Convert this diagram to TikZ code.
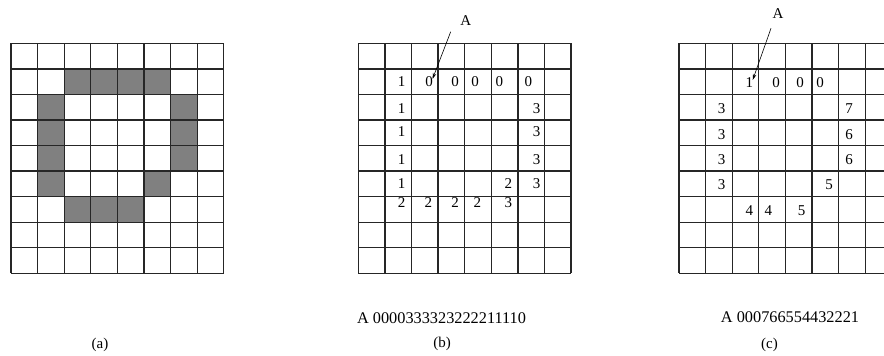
\documentclass[tikz,border=0pt]{standalone}
\usepackage{fontspec}
\setmainfont{Liberation Serif}
\usetikzlibrary{arrows.meta}
\tikzset{
  gl/.style={line width=1.3pt, draw=black!85},
  cellfill/.style={fill={rgb,255:red,128;green,128;blue,128}},
  numtext/.style={inner sep=0pt, font=\fontsize{15}{15}\selectfont},
  captext/.style={inner sep=0pt, font=\fontsize{15}{15}\selectfont},
  seqtext/.style={inner sep=0pt, font=\fontsize{16.3}{16.3}\selectfont},
  arr/.style={line width=0.6pt, -{Stealth[length=6pt,width=3.5pt]}},
}
\newcommand{\cw}{26.6}
\newcommand{\ch}{25.55}
\newcommand{\drawgrid}[1]{%
  \foreach \i in {0,...,8} \draw[gl] ({#1+\i*\cw},43.3) -- ({#1+\i*\cw},{43.3+9*\ch});
  \foreach \j in {0,...,9} \draw[gl] (#1,{43.3+\j*\ch}) -- ({#1+8*\cw},{43.3+\j*\ch});
}
\begin{document}
\begin{tikzpicture}[x=1pt,y=-1pt]
\useasboundingbox (0,0) rectangle (884,356);
\clip (0,0) rectangle (884,356);
\fill[white] (0,0) rectangle (884,356);
% ---------- (a) ----------
\def\La{11}
\foreach \c/\r in {2/1,3/1,4/1,5/1, 1/2,1/3,1/4,1/5, 6/2,6/3,6/4, 5/5, 2/6,3/6,4/6}
  \fill[cellfill] ({\La+\c*\cw},{43.3+\r*\ch}) rectangle ({\La+(\c+1)*\cw},{43.3+(\r+1)*\ch});
\drawgrid{11}
\node[captext] (capa) at (100,345) {(a)};
% ---------- (b) ----------
\drawgrid{358.3}
\foreach \n/\x/\y/\t in {
  b1a/401.7/81.7/1, b1b/429/81.7/0, b1c/455/81.7/0, b1d/475/81.7/0, b1e/499.3/81.7/0, b1f/528.3/81.7/0,
  b2a/401.7/108.3/1, b2b/536.7/108.3/3,
  b3a/401.7/132/1, b3b/536.7/132/3,
  b4a/401.7/159.3/1, b4b/536.7/159.3/3,
  b5a/401.7/184/1, b5b/508.3/184/2, b5c/536.7/184/3,
  b6a/401.7/202.5/2, b6b/428.3/202.5/2, b6c/455/202.5/2, b6d/477.3/202.5/2, b6e/508.3/202.5/3}
  \node[numtext] (\n) at (\x,\y) {\t};
\node[numtext] (Ab) at (465.7,21) {A};
\coordinate (Abtop) at (450.7,31.7);
\coordinate (Abtip) at (432.5,79);
\draw[arr] (Abtop) -- (Abtip);
\node[seqtext] (seqb) at (441.5,318) {A 0000333323222211110};
\node[captext] (capb) at (442,344) {(b)};
% ---------- (c) ----------
\drawgrid{679}
\foreach \n/\x/\y/\t in {
  c1a/749.3/82.7/1, c1b/776/82.7/0, c1c/800/82.7/0, c1d/820/82.7/0,
  c2a/721.7/108.3/3, c2b/849/108.3/7,
  c3a/721.7/134.3/3, c3b/849/134.3/6,
  c4a/721.7/160/3, c4b/849/160/6,
  c5a/721.7/184.3/3, c5b/829/184.3/5,
  c6a/749.3/210.7/4, c6b/768.3/210.7/4, c6c/801.7/210.7/5}
  \node[numtext] (\n) at (\x,\y) {\t};
\node[numtext] (Ac) at (778,14) {A};
\coordinate (Actop) at (771,28.3);
\coordinate (Actip) at (752.7,80);
\draw[arr] (Actop) -- (Actip);
\node[seqtext] (seqc) at (790,317) {A 000766554432221};
\node[captext] (capc) at (769.5,345) {(c)};
\end{tikzpicture}
\end{document}
